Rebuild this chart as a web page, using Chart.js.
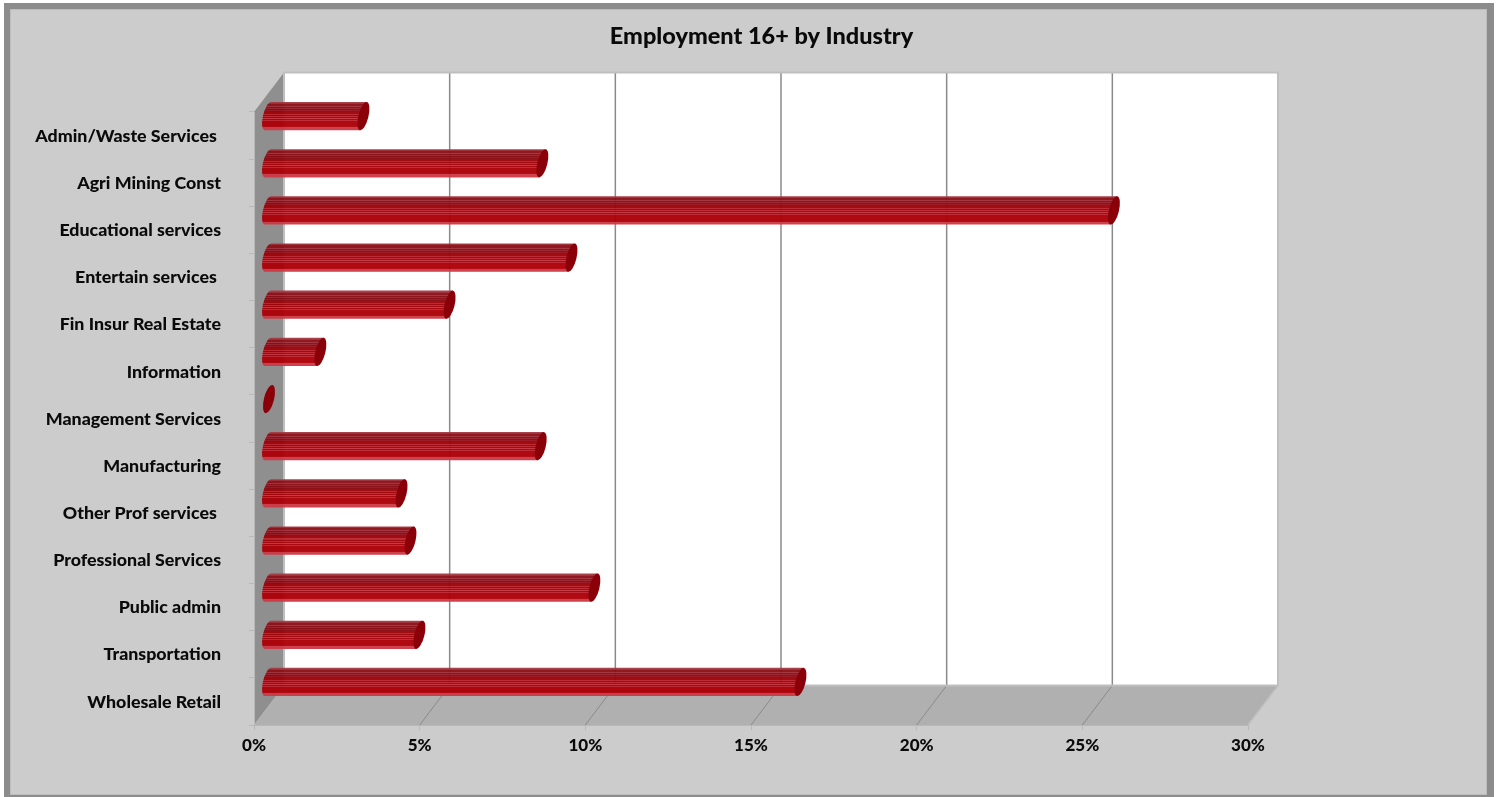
<!DOCTYPE html>
<html><head><meta charset="utf-8">
<style>html,body{margin:0;padding:0;background:#fff}canvas{display:block}</style>
<script src="https://cdn.jsdelivr.net/npm/chart.js@4/dist/chart.umd.min.js"></script>
</head><body><canvas id="c" width="1498" height="797"></canvas>
<script>
const chartTitle = "Employment 16+ by Industry";
const categories = ["Admin/Waste Services ","Agri Mining Const","Educational services","Entertain services ","Fin Insur Real Estate","Information","Management Services","Manufacturing","Other Prof services ","Professional Services","Public admin","Transportation","Wholesale Retail"];
const shares = [2.85,8.25,25.5,9.13,5.45,1.55,0,8.2,4.0,4.27,9.82,4.54,16.04];
const xTickValues = [0,5,10,15,20,25,30];
const bandColors = ["#a63a44","#9c2a34","#8a1018","#8a1018","#a0303a","#880c14","#98222c","#860810","#961420","#880810","#9c0408","#9c0408","#b8242e","#9c0008","#c0262e","#a40008","#c4343e","#a60008","#bc2630","#ac0008","#ac0008","#ac0008","#ac0008","#ac0008","#b0040c","#cb3a46","#cb3a46","#cb3a46"];
const DEPTH_X = 30, DEPTH_Y = -39.5;
const RX = 14.5, RY = 5, PHI = 76*Math.PI/180;

const depthPlugin = {
  id:'depth',
  afterLayout(chart){
    chart.titleBlock.left = 25; chart.titleBlock.right = 1498;
  },
  beforeDraw(chart){
    const c = chart.ctx, x = chart.scales.x, a = chart.chartArea;
    const L=a.left,R=a.right,T=a.top,B=a.bottom;
    c.save();
    c.fillStyle='#fff'; c.fillRect(0,0,1498,797);
    c.fillStyle='#8c8c8c'; c.fillRect(4,3,1490,794);
    c.fillStyle='#bdbdbd'; c.fillRect(10,9,1477,786);
    c.fillStyle='#cccccc'; c.fillRect(11,10,1475,784);
    c.fillStyle='#fff'; c.fillRect(L+DEPTH_X,T+DEPTH_Y,R-L,B-T);
    c.fillStyle='#8f8f8f'; c.beginPath();
    c.moveTo(L,T);c.lineTo(L+DEPTH_X,T+DEPTH_Y);c.lineTo(L+DEPTH_X,B+DEPTH_Y);c.lineTo(L,B);c.closePath();c.fill();
    c.fillStyle='#b0b0b0'; c.beginPath();
    c.moveTo(L,B);c.lineTo(L+DEPTH_X,B+DEPTH_Y);c.lineTo(R+DEPTH_X,B+DEPTH_Y);c.lineTo(R,B);c.closePath();c.fill();
    c.strokeStyle='#8a8a8a';
    xTickValues.slice(1,-1).forEach(v=>{
      const p=x.getPixelForValue(v);
      c.lineWidth=1.5;c.beginPath();c.moveTo(p+DEPTH_X,T+DEPTH_Y);c.lineTo(p+DEPTH_X,B+DEPTH_Y);c.stroke();
      c.lineWidth=1;c.beginPath();c.moveTo(p+DEPTH_X,B+DEPTH_Y);c.lineTo(p,B);c.stroke();
    });
    c.strokeStyle='#bfbfbf';c.lineWidth=2;c.beginPath();
    c.moveTo(L+DEPTH_X,B+DEPTH_Y);c.lineTo(L+DEPTH_X,T+DEPTH_Y);c.lineTo(R+DEPTH_X,T+DEPTH_Y);c.lineTo(R+DEPTH_X,B+DEPTH_Y);c.lineTo(L+DEPTH_X,B+DEPTH_Y);c.stroke();
    c.lineWidth=1.5;c.beginPath();c.moveTo(R+DEPTH_X,B+DEPTH_Y);c.lineTo(R,B);c.stroke();
    c.restore();
  },
  beforeDatasetDraw(chart,args){
    const c=chart.ctx;
    const u={x:Math.cos(-PHI),y:Math.sin(-PHI)}, v={x:-u.y,y:u.x};
    const tTop=Math.atan2(-RY*v.y, RX*(-u.y));
    args.meta.data.forEach(el=>{
      const cy=el.y+DEPTH_Y/2+0.3, x0=el.base+DEPTH_X/2-1.5, xe=el.x+DEPTH_X/2;
      const tx=RX*Math.cos(tTop)*u.x+RY*Math.sin(tTop)*v.x;
      const ty=-(RX*Math.cos(tTop)*u.y+RY*Math.sin(tTop)*v.y);
      const top=cy-ty, h=2*ty;
      c.save();
      if(xe-x0>2){
        const g=c.createLinearGradient(0,top,0,top+h), n=bandColors.length;
        bandColors.forEach((col,i)=>{g.addColorStop(i/n,col);g.addColorStop((i+1)/n,col);});
        c.globalAlpha=0.96;c.fillStyle=g;c.beginPath();
        c.moveTo(x0+tx,cy-ty);c.lineTo(xe+tx,cy-ty);c.lineTo(xe-tx,cy+ty);c.lineTo(x0-tx,cy+ty);
        c.ellipse(x0,cy,RX,RY,-PHI,tTop-Math.PI,tTop,false);
        c.closePath();c.fill();
      }
      c.globalAlpha=1;c.fillStyle='#8b0008';c.beginPath();
      c.ellipse(xe,cy,RX,RY,-PHI,0,Math.PI*2);c.fill();
      c.restore();
    });
    return false;
  }
};

new Chart(document.getElementById('c'),{
  type:'bar',
  data:{labels:categories,datasets:[{label:chartTitle,data:shares,backgroundColor:'#b00010',categoryPercentage:1,barPercentage:0.6}]},
  plugins:[depthPlugin],
  options:{
    indexAxis:'y',responsive:false,animation:false,
    layout:{padding:{left:0,right:250,top:0,bottom:0}},
    plugins:{
      legend:{display:false},tooltip:{enabled:false},
      title:{display:true,text:chartTitle,color:'#0a0a0a',font:{family:'Lato',weight:'900',size:23.5,lineHeight:1.2},padding:{top:22,bottom:61.8}}
    },
    scales:{
      x:{min:0,max:30,afterBuildTicks(s){s.ticks=xTickValues.map(v=>({value:v}));},
        afterFit(s){s.height=72;},
        grid:{drawOnChartArea:false,tickLength:5,tickColor:'#b8b8b8'},border:{color:'#b8b8b8'},
        ticks:{callback:v=>v+'%',color:'#0a0a0a',padding:5,maxRotation:0,autoSkip:false,font:{family:'Lato',weight:'900',size:17}}},
      y:{afterFit(s){s.width=254;},
        grid:{drawOnChartArea:false,tickLength:5,tickColor:'#b8b8b8'},border:{color:'#b8b8b8'},
        ticks:{color:'#0a0a0a',padding:28,autoSkip:false,labelOffset:0.5,font:{family:'Lato',weight:'900',size:17.8}}}
    }
  }
});
</script></body></html>
